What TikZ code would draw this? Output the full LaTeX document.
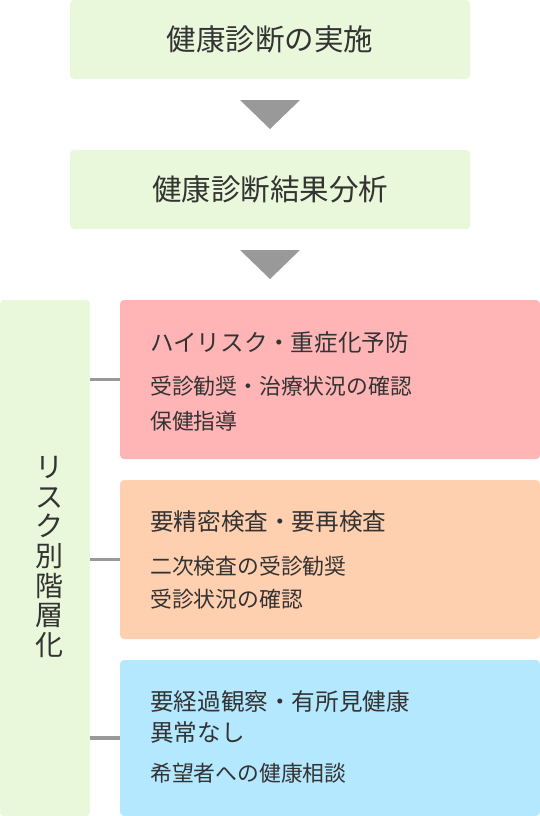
\documentclass[tikz,border=0pt]{standalone}
\usepackage{fontspec}
\setmainfont{Noto Sans CJK JP}
\definecolor{boxgreen}{HTML}{E9F7DA}
\definecolor{boxred}{HTML}{FFB5B6}
\definecolor{boxorange}{HTML}{FFD0B0}
\definecolor{boxblue}{HTML}{B3E8FF}
\definecolor{linegray}{HTML}{999999}
\definecolor{txt}{HTML}{333333}
\begin{document}
\begin{tikzpicture}[x=1pt,y=-1pt,
  box/.style={inner sep=0pt, outer sep=0pt, rounded corners=4pt, anchor=north west},
  bigtext/.style={font=\fontsize{29.5}{32}\selectfont, text=txt, inner sep=0pt},
  ttl/.style={font=\fontsize{23.6}{31}\selectfont, text=txt, inner sep=0pt, anchor=west, align=left},
  sub/.style={font=\fontsize{21.8}{30}\selectfont, text=txt, inner sep=0pt, anchor=west},
  conn/.style={draw=linegray, line width=3.3pt},
  tri/.style={fill=linegray}
]
\useasboundingbox (0,0) rectangle (540,816);
% top boxes
\node[box, fill=boxgreen, minimum width=400pt, minimum height=79pt] (b1) at (70,0) {};
\node[bigtext] (t1) at (b1.center) {健康診断の実施};
\fill[tri] (240,100) -- (300,100) -- (270,129) -- cycle;
\node[box, fill=boxgreen, minimum width=400pt, minimum height=79pt] (b2) at (70,150) {};
\node[bigtext] (t2) at (b2.center) {健康診断結果分析};
\fill[tri] (240,250) -- (300,250) -- (270,279) -- cycle;
% left tall box
\node[box, fill=boxgreen, minimum width=90pt, minimum height=516pt] (risk) at (0,300) {};
\node[font=\fontsize{28}{29.6}\selectfont, text=txt, inner sep=0pt, align=center] (rt) at (49,557) {リ\\ス\\ク\\別\\階\\層\\化};
% right boxes
\node[box, fill=boxred, minimum width=420pt, minimum height=159pt] (red) at (120,300) {};
\node[box, fill=boxorange, minimum width=420pt, minimum height=159pt] (orange) at (120,480) {};
\node[box, fill=boxblue, minimum width=420pt, minimum height=156pt] (blue) at (120,660) {};
% red texts
\node[ttl] (r1) at (150,343) {ハイリスク・重症化予防};
\node[sub] (r2) at (150,386) {受診勧奨・治療状況の確認};
\node[sub] (r3) at (150,421) {保健指導};
% orange texts
\node[ttl] (o1) at (150,522) {要精密検査・要再検査};
\node[sub] (o2) at (150,566) {二次検査の受診勧奨};
\node[sub] (o3) at (150,599) {受診状況の確認};
% blue texts
\node[ttl] (u1) at (150,717.5) {要経過観察・有所見健康\\異常なし};
\node[sub] (u2) at (150,773) {希望者への健康相談};
% connectors
\draw[conn] (risk.east |- red.west) -- (red.west);
\draw[conn] (risk.east |- orange.west) -- (orange.west);
\draw[conn] (risk.east |- blue.west) -- (blue.west);
\end{tikzpicture}
\end{document}
